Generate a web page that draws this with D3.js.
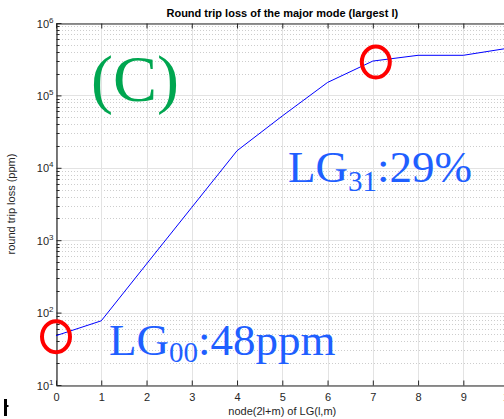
<!DOCTYPE html>
<html><head><meta charset="utf-8">
<script src="https://cdn.jsdelivr.net/npm/d3@7"></script>
<style>
html,body{margin:0;padding:0;background:#fff;overflow:hidden;}
svg{display:block;}
</style></head>
<body>
<svg id="c" width="504" height="419"></svg>
<script>
// ---- data ----
const nodes = [0, 1, 2, 3, 4, 5, 6, 7, 8, 9, 10];
const lossPpm = [48, 77, 469, 2840, 17200, 52000, 151000, 298000, 358000, 358000, 450000];
const xTicks = [0, 1, 2, 3, 4, 5, 6, 7, 8, 9, 10];
const yExponents = [1, 2, 3, 4, 5, 6];
const titleText = "Round trip loss of the major mode (largest l)";
const xLabel = "node(2l+m) of LG(l,m)";
const yLabel = "round trip loss (ppm)";
const circled = [{node: 0, loss: 48}, {node: 7, loss: 298000}];

const svg = d3.select("#c");
const m = {left: 56, top: 23, right: 56 + 452.6, bottom: 385};
const x = d3.scaleLinear().domain([0, 10]).range([m.left, m.right]);
const y = d3.scaleLog().domain([10, 1e6]).range([m.bottom, m.top]);
const txt = "#262626";
const sans = "'Liberation Sans', Arial, Helvetica, sans-serif";
const serif = "'Liberation Serif', 'Times New Roman', serif";

// grid
const g = svg.append("g");
const minor = [];
for (let e = 1; e < 6; e++) for (let k = 2; k <= 9; k++) minor.push(k * Math.pow(10, e));
g.selectAll(".mg").data(minor).enter().append("line")
  .attr("x1", m.left).attr("x2", m.right)
  .attr("y1", d => Math.round(y(d)) + 0.5).attr("y2", d => Math.round(y(d)) + 0.5)
  .attr("stroke", "#cdcdcd").attr("stroke-width", 1).attr("stroke-dasharray", "1,2");
g.selectAll(".Mg").data(yExponents.map(e => Math.pow(10, e))).enter().append("line")
  .attr("x1", m.left).attr("x2", m.right)
  .attr("y1", d => Math.round(y(d)) + 0.5).attr("y2", d => Math.round(y(d)) + 0.5)
  .attr("stroke", "#e3e3e3").attr("stroke-width", 1);
g.selectAll(".xg").data(xTicks).enter().append("line")
  .attr("y1", m.top).attr("y2", m.bottom)
  .attr("x1", d => Math.round(x(d)) + 0.5).attr("x2", d => Math.round(x(d)) + 0.5)
  .attr("stroke", "#e3e3e3").attr("stroke-width", 1);

// axes
const ax = svg.append("g");
const xAxis = d3.axisBottom(x).tickValues(xTicks).tickSizeInner(-5).tickSizeOuter(0).tickFormat(d3.format("d"));
const xa = ax.append("g").attr("transform", `translate(0,${m.bottom + 0.5})`).call(xAxis);
xa.select(".domain").attr("stroke", txt);
xa.selectAll(".tick line").attr("stroke", txt);
xa.selectAll(".tick text").attr("y", 8).attr("dy", "0.71em").attr("fill", txt)
  .style("font-family", sans).style("font-size", "11px");

const xTop = d3.axisTop(x).tickValues(xTicks).tickSizeInner(-5).tickSizeOuter(0).tickFormat("");
const xt = ax.append("g").attr("transform", `translate(0,${m.top + 0.5})`).call(xTop);
xt.select(".domain").attr("stroke", txt);
xt.selectAll(".tick line").attr("stroke", txt);

const yAxis = d3.axisLeft(y).tickValues(yExponents.map(e => Math.pow(10, e))).tickSizeInner(-5).tickSizeOuter(0).tickFormat("");
const ya = ax.append("g").attr("transform", `translate(${m.left + 0.5},0)`).call(yAxis);
ya.select(".domain").attr("stroke", txt).attr("stroke-width", 1.2);
ya.selectAll(".tick line").attr("stroke", txt);
ya.selectAll(".mt").data(minor).enter().append("line")
  .attr("x1", 0).attr("x2", 3)
  .attr("y1", d => Math.round(y(d)) + 0.5).attr("y2", d => Math.round(y(d)) + 0.5)
  .attr("stroke", txt);
const yl = ya.selectAll(".ylab").data(yExponents).enter().append("text")
  .attr("x", -3).attr("y", e => y(Math.pow(10, e)) + 4.5)
  .attr("text-anchor", "end").attr("fill", txt)
  .style("font-family", sans).style("font-size", "11px");
yl.append("tspan").text("10");
yl.append("tspan").attr("dy", -5).style("font-size", "8px").text(e => e);

// title & labels
svg.append("text").attr("x", (m.left + m.right) / 2).attr("y", 17)
  .attr("text-anchor", "middle").attr("fill", "#000")
  .style("font-family", sans).style("font-size", "11px").style("font-weight", "bold")
  .text(titleText);
svg.append("text").attr("x", (m.left + m.right) / 2).attr("y", 415)
  .attr("text-anchor", "middle").attr("fill", txt)
  .style("font-family", sans).style("font-size", "11px").text(xLabel);
svg.append("text").attr("transform", `translate(15,${(m.top + m.bottom) / 2}) rotate(-90)`)
  .attr("text-anchor", "middle").attr("fill", txt)
  .style("font-family", sans).style("font-size", "11px").text(yLabel);

// data line
const line = d3.line().x((d, i) => x(nodes[i])).y(d => y(d));
svg.append("path").datum(lossPpm).attr("d", line)
  .attr("fill", "none").attr("stroke", "#0000ff").attr("stroke-width", 1);

// annotations
svg.append("text").attr("x", 91).attr("y", 101)
  .attr("fill", "#00a650").style("font-family", serif).style("font-size", "66px").text("(C)");

const blue = "#1f5fff";
const a1 = svg.append("text").attr("x", 288).attr("y", 182).attr("fill", blue)
  .style("font-family", serif).style("font-size", "45px");
a1.append("tspan").text("LG");
a1.append("tspan").attr("dy", 9).style("font-size", "29px").text("31");
a1.append("tspan").attr("dy", -9).text(":29%");

const a2 = svg.append("text").attr("x", 109).attr("y", 355).attr("fill", blue)
  .style("font-family", serif).style("font-size", "45px");
a2.append("tspan").text("LG");
a2.append("tspan").attr("dy", 7).style("font-size", "29px").text("00");
a2.append("tspan").attr("dy", -7).text(":48ppm");

svg.selectAll(".circ").data(circled).enter().append("ellipse")
  .attr("cx", (d, i) => x(d.node) + (i === 1 ? 3 : 0))
  .attr("cy", d => y(d.loss) + 1)
  .attr("rx", 14).attr("ry", 15.5)
  .attr("fill", "none").attr("stroke", "#ff0000").attr("stroke-width", 4);

// stray mark bottom-left
svg.append("rect").attr("x", 4).attr("y", 399).attr("width", 3).attr("height", 17).attr("fill", "#000");
svg.append("rect").attr("x", 7).attr("y", 405).attr("width", 1.5).attr("height", 2).attr("fill", "#000");
</script>
</body></html>
